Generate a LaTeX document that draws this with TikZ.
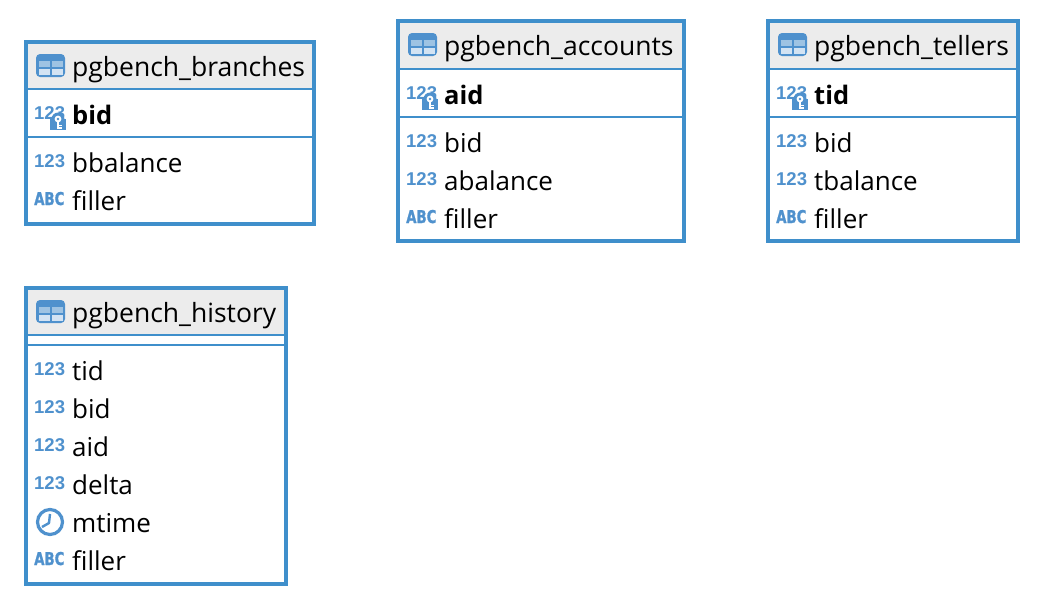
\documentclass[tikz,border=0pt]{standalone}
\usepackage{fontspec}
\usepackage{graphicx}
\setmainfont{Open Sans}
\newfontfamily\abcfont[BoldFeatures={FakeBold=1.2}]{DejaVu Sans}
\newfontfamily\numfont{Liberation Sans}
\definecolor{dbblue}{HTML}{3F8FCB}
\definecolor{iconblue}{HTML}{4F91CD}
\definecolor{headgray}{HTML}{ECECEC}
\tikzset{
  tablebox/.style={draw=dbblue,line width=4pt,rectangle,anchor=north west,inner sep=0pt,outer sep=0pt},
  headbar/.style={fill=headgray,rectangle,anchor=north west,inner sep=0pt,outer sep=0pt},
  rule/.style={draw=dbblue,line width=2pt},
  title/.style={anchor=base west,inner sep=0pt,font=\fontsize{26.5}{28}\selectfont,text=black},
  coltext/.style={anchor=base west,inner sep=0pt,font=\fontsize{26}{28}\selectfont,text=black},
  keytext/.style={coltext,font=\fontsize{25.5}{28}\selectfont\bfseries},
  icontext/.style={anchor=base west,inner sep=0pt,font=\numfont\fontsize{18.5}{20}\selectfont\bfseries,text=iconblue},
  abctext/.style={anchor=base west,inner sep=0pt,font=\abcfont\fontsize{18}{20}\selectfont\bfseries,text=iconblue},
}
% table: id, left, top, outer width, outer height, title, y of header rule, y of second rule
\newcommand{\dbtable}[8]{%
  \node[headbar,minimum width=#4 pt-8pt,minimum height=#7 pt-#3 pt-4pt] (#1head) at (#2+4,#3+4) {};
  \fill[iconblue,rounded corners=4pt] (#2+12,#3+14) rectangle (#2+41,#3+37);
  \fill[iconblue!55!white] (#2+15,#3+21) rectangle (#2+26,#3+27);
  \fill[iconblue!55!white] (#2+28,#3+21) rectangle (#2+39,#3+27);
  \fill[iconblue!25!white] (#2+15,#3+29) rectangle (#2+26,#3+34.5);
  \fill[iconblue!25!white] (#2+28,#3+29) rectangle (#2+39,#3+34.5);
  \node[title] (#1title) at (#2+48,#3+36) {#6};
  \coordinate (#1a) at (#2+4,#7);
  \coordinate (#1b) at (#2+#4-4,#7);
  \coordinate (#1c) at (#2+4,#8);
  \coordinate (#1d) at (#2+#4-4,#8);
  \draw[rule] (#1a) -- (#1b);
  \draw[rule] (#1c) -- (#1d);
  \node[tablebox,minimum width=#4 pt-4pt,minimum height=#5 pt-4pt] (#1box) at (#2+2,#3+2) {};
}
\newcommand{\numcol}[4]{%
  \node[icontext] (#1icon) at (#2+10,#3-4.5) {123};
  \node[coltext] (#1) at (#2+48,#3) {#4};
}
\newcommand{\abccol}[4]{%
  \node[abctext] (#1icon) at (#2+10,#3-5) {\scalebox{.74}[.98]{ABC}};
  \node[coltext] (#1) at (#2+48,#3) {#4};
}
\newcommand{\keycol}[4]{%
  \node[icontext] (#1icon) at (#2+10,#3-4.5) {123};
  \fill[iconblue] (#2+26,#3-5) rectangle (#2+42,#3+6);
  \fill[iconblue] (#2+34,#3-5) circle (6.5);
  \fill[white] (#2+34,#3-5) circle (3.4);
  \fill[iconblue] (#2+34,#3-5) circle (1.3);
  \draw[white,line width=1.4pt] (#2+34,#3-2) -- (#2+34,#3+4.5) (#2+34,#3+1.5) -- (#2+37.5,#3+1.5) (#2+34,#3+4) -- (#2+37.5,#3+4);
  \node[keytext] (#1) at (#2+48,#3) {#4};
}
\newcommand{\timecol}[4]{%
  \draw[iconblue,line width=3.2pt] (#2+26,#3-10) circle (12.5);
  \draw[iconblue,line width=2.4pt,line join=round] (#2+26,#3-18) -- (#2+25,#3-9) -- (#2+18,#3-5);
  \node[coltext] (#1) at (#2+48,#3) {#4};
}
\begin{document}
\begin{tikzpicture}[x=1pt,y=-1pt]
\useasboundingbox (0,0) rectangle (1044,614);
\fill[white] (0,0) rectangle (1044,614);
\dbtable{br}{24}{40}{292}{186}{pgbench\_branches}{89}{137}
\keycol{brbid}{24}{124}{bid}
\numcol{brbal}{24}{172}{bbalance}
\abccol{brfil}{24}{210}{filler}
\dbtable{ac}{396}{19}{290}{224}{pgbench\_accounts}{69}{117}
\keycol{acaid}{396}{104}{aid}
\numcol{acbid}{396}{152}{bid}
\numcol{acbal}{396}{190}{abalance}
\abccol{acfil}{396}{228}{filler}
\dbtable{te}{766}{19}{254}{224}{pgbench\_tellers}{69}{117}
\keycol{tetid}{766}{104}{tid}
\numcol{tebid}{766}{152}{bid}
\numcol{tebal}{766}{190}{tbalance}
\abccol{tefil}{766}{228}{filler}
\dbtable{hi}{24}{286}{264}{300}{pgbench\_history}{335}{345}
\numcol{hitid}{24}{380}{tid}
\numcol{hibid}{24}{418}{bid}
\numcol{hiaid}{24}{456}{aid}
\numcol{hidel}{24}{494}{delta}
\timecol{himti}{24}{532}{mtime}
\abccol{hifil}{24}{570}{filler}
\end{tikzpicture}
\end{document}
